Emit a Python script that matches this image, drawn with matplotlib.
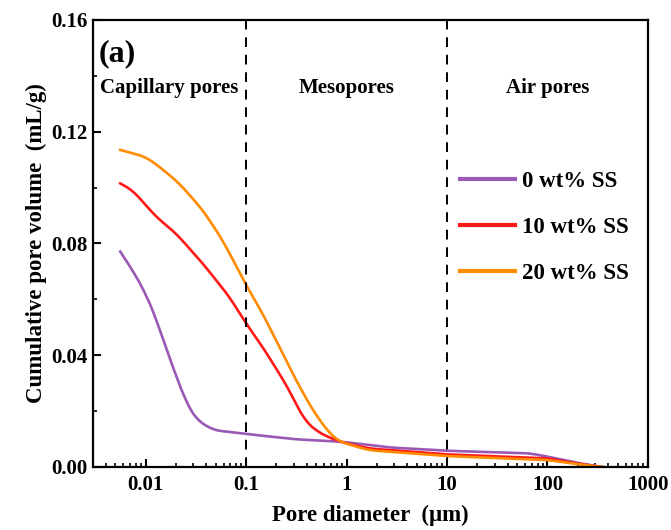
import matplotlib.pyplot as plt
import numpy as np
from matplotlib.ticker import LogLocator, MultipleLocator, FixedLocator, FixedFormatter

plt.rcParams['font.family'] = ['Liberation Serif', 'DejaVu Serif']
plt.rcParams['font.weight'] = 'bold'

# 孔径 (μm) 与累计孔体积 (mL/g)
d0 = [0.0056, 0.0074, 0.01, 0.0129, 0.0162, 0.0203, 0.0256, 0.0323, 0.0475,
      0.0866, 0.1, 0.314, 0.85, 1.68, 2.66, 10, 66, 104, 210, 350]
v0 = [0.0771, 0.0705, 0.0622, 0.0526, 0.0419, 0.0323, 0.0228, 0.0168, 0.0132,
      0.0121, 0.0118, 0.0099, 0.0091, 0.0079, 0.0070, 0.0058, 0.0049, 0.0036, 0.0013, 0.0]

d10 = [0.0056, 0.0074, 0.0127, 0.0201, 0.037, 0.068, 0.1, 0.146, 0.214,
       0.28, 0.314, 0.39, 0.54, 0.85, 1.68, 10, 100, 200, 350]
v10 = [0.1015, 0.0991, 0.0896, 0.0836, 0.0729, 0.061, 0.0514, 0.043, 0.0335,
       0.0264, 0.0225, 0.0163, 0.0121, 0.0091, 0.0066, 0.0045, 0.0031, 0.0012, 0.0]

d20 = [0.0056, 0.01, 0.0137, 0.0217, 0.037, 0.0585, 0.1, 0.146, 0.214,
       0.314, 0.46, 0.673, 0.85, 1.24, 1.68, 10, 100, 200, 350]
v20 = [0.1135, 0.111, 0.1075, 0.1015, 0.092, 0.0812, 0.0651, 0.055, 0.043,
       0.0311, 0.0204, 0.0121, 0.0091, 0.0073, 0.0060, 0.0039, 0.0025, 0.0010, 0.0]

labels = ['0 wt% SS', '10 wt% SS', '20 wt% SS']
colors = ['#9b59b6', '#ff1a1a', '#ff8c00']

fig = plt.figure(figsize=(6.71, 5.30), dpi=100)
ax = fig.add_axes([0.1386, 0.1189, 0.8271, 0.8434])

for d, v, lab, c in zip([d0, d10, d20], [v0, v10, v20], labels, colors):
    # 在对数坐标下插值并稍作平滑（端点处线性延拓）
    xs = np.logspace(np.log10(d[0]), np.log10(d[-1]), 400)
    ys = np.interp(np.log10(xs), np.log10(d), v)
    k = np.ones(13) / 13
    ys_s = np.convolve(np.pad(ys, 6, mode='reflect', reflect_type='odd'), k, mode='valid')
    ax.plot(xs, ys_s, color=c, lw=1.9, label=lab)

ax.axvline(0.1, color='black', ls=(0, (5, 4)), lw=1.4)
ax.axvline(10, color='black', ls=(0, (5, 4)), lw=1.4)

ax.set_xscale('log')
ax.set_xlim(0.003, 1000)
ax.set_ylim(0, 0.16)

ax.xaxis.set_major_locator(FixedLocator([0.01, 0.1, 1, 10, 100, 1000]))
ax.xaxis.set_major_formatter(FixedFormatter(['0.01', '0.1', '1', '10', '100', '1000']))
ax.xaxis.set_minor_locator(LogLocator(base=10, subs=np.arange(2, 10)))
ax.yaxis.set_major_locator(MultipleLocator(0.04))
ax.yaxis.set_minor_locator(MultipleLocator(0.02))
ax.yaxis.set_major_formatter(plt.FuncFormatter(lambda y, p: f'{y:.2f}'))

ax.tick_params(which='major', direction='in', length=6, width=1.5, labelsize=15)
ax.tick_params(which='minor', direction='in', length=3, width=1.2)
ax.tick_params(axis='x', pad=6)
ax.tick_params(axis='y', pad=4)
for s in ax.spines.values():
    s.set_linewidth(1.6)

ax.set_xlabel('Pore diameter  (μm)', fontsize=16.5, fontweight='bold', labelpad=7)
ax.set_ylabel('Cumulative pore volume  (mL/g)', fontsize=16.5, fontweight='bold', labelpad=3)

ax.text(0.0034, 0.1478, '(a)', fontsize=23, fontweight='bold', va='center')
ax.text(0.017, 0.1355, 'Capillary pores', fontsize=15, fontweight='bold', ha='center', va='center')
ax.text(1.0, 0.1355, 'Mesopores', fontsize=15, fontweight='bold', ha='center', va='center')
ax.text(100, 0.1355, 'Air pores', fontsize=15, fontweight='bold', ha='center', va='center')

leg = ax.legend(loc='upper left', bbox_to_anchor=(0.625, 0.708), frameon=False,
                fontsize=16.5, handlelength=2.4, labelspacing=1.08, handletextpad=0.3,
                borderpad=0.4)
for line in leg.get_lines():
    line.set_linewidth(3)

fig.savefig('out.png', dpi=100)
